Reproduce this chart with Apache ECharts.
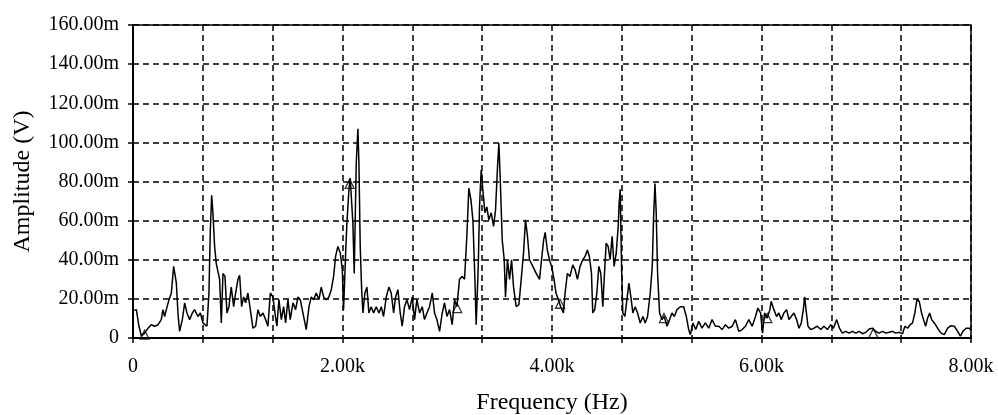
<!DOCTYPE html>
<html>
<head>
<meta charset="utf-8">
<title>Amplitude spectrum</title>
<script src="https://cdn.jsdelivr.net/npm/echarts@6/dist/echarts.min.js"></script>
<style>
  html, body { margin: 0; padding: 0; background: #fff; }
  #chart { width: 998px; height: 415px; }
</style>
</head>
<body>
<div id="chart"></div>
<script>
// frequency of each trace point (Hz)
const freqHz = [
  0, 32, 57, 80, 111, 143, 175, 207, 239, 270, 286, 302, 318, 344, 366, 388, 398, 414, 429, 445,
  471, 493, 515, 541, 566, 588, 620, 643, 668, 706, 725, 738, 751, 763, 779, 795, 811, 827, 843, 859,
  878, 897, 916, 938, 961, 980, 1002, 1018, 1037, 1056, 1075, 1097, 1120, 1145, 1171, 1193, 1215, 1241, 1266, 1288,
  1311, 1336, 1355, 1374, 1393, 1416, 1438, 1457, 1479, 1501, 1527, 1552, 1575, 1597, 1622, 1654, 1680, 1702, 1724, 1750,
  1775, 1797, 1820, 1845, 1870, 1893, 1915, 1934, 1956, 1979, 1998, 2010, 2030, 2042, 2061, 2074, 2087, 2099, 2112, 2131,
  2147, 2157, 2169, 2182, 2195, 2214, 2233, 2252, 2274, 2297, 2322, 2348, 2370, 2392, 2418, 2443, 2465, 2488, 2507, 2529,
  2551, 2570, 2592, 2615, 2640, 2666, 2688, 2710, 2736, 2761, 2783, 2806, 2831, 2857, 2879, 2901, 2927, 2952, 2974, 2997,
  3022, 3047, 3070, 3092, 3117, 3143, 3165, 3187, 3206, 3226, 3245, 3264, 3276, 3296, 3308, 3324, 3340, 3359, 3378, 3397,
  3420, 3442, 3461, 3480, 3493, 3505, 3525, 3544, 3556, 3575, 3595, 3614, 3633, 3658, 3684, 3706, 3728, 3747, 3766, 3785,
  3817, 3849, 3881, 3900, 3920, 3935, 3955, 3981, 3997, 4019, 4038, 4061, 4083, 4109, 4125, 4147, 4172, 4198, 4220, 4243,
  4268, 4294, 4316, 4338, 4357, 4377, 4389, 4408, 4428, 4447, 4466, 4485, 4498, 4517, 4536, 4555, 4574, 4593, 4613, 4632,
  4641, 4651, 4664, 4676, 4696, 4715, 4734, 4753, 4772, 4794, 4817, 4842, 4868, 4890, 4912, 4938, 4957, 4970, 4983, 4995,
  5008, 5027, 5050, 5072, 5098, 5123, 5145, 5168, 5193, 5225, 5257, 5282, 5305, 5321, 5346, 5372, 5401, 5432, 5464, 5496,
  5528, 5560, 5592, 5624, 5656, 5688, 5720, 5751, 5783, 5815, 5847, 5879, 5911, 5943, 5965, 5991, 6010, 6029, 6055, 6080,
  6093, 6118, 6144, 6166, 6188, 6214, 6240, 6262, 6284, 6310, 6335, 6358, 6380, 6399, 6412, 6425, 6444, 6469, 6501, 6533,
  6565, 6597, 6629, 6661, 6686, 6718, 6744, 6772, 6804, 6836, 6868, 6900, 6932, 6964, 6996, 7028, 7059, 7091, 7123, 7155,
  7187, 7219, 7251, 7283, 7315, 7346, 7369, 7394, 7420, 7442, 7464, 7484, 7506, 7528, 7547, 7567, 7586, 7605, 7624, 7650,
  7681, 7713, 7745, 7777, 7809, 7841, 7873, 7898, 7924, 7953, 7984, 8000
];

// amplitude at each point (mV)
const ampMv = [
  14, 14.5, 6, 1, 2.5, 5, 6.8, 6, 6.8, 9.4, 14.5, 11, 14.5, 19.6, 23, 36.6, 37.4, 28, 12.8, 3.4,
  9.4, 17.9, 12.8, 9.4, 12.8, 14.5, 11, 12.8, 7.7, 6, 23, 55, 73, 64, 47, 38, 39, 30, 7.7, 33,
  31.5, 12.8, 16, 26, 16, 23, 30, 32, 16, 21, 18, 23, 14.5, 5, 6, 14.5, 11, 12.8, 9.4, 6,
  23, 21, 12.8, 6, 19.6, 9.4, 16, 7.7, 19.6, 9.4, 18, 14.5, 21, 19.6, 12.8, 4.3, 16, 21, 19.6, 23,
  19.6, 26, 21, 19.6, 21, 24.7, 31.5, 41.7, 46.8, 43.4, 35, 14.5, 43.4, 58.7, 75.7, 81.7, 80.9, 58.7, 33, 89,
  107, 89, 47, 26, 12.8, 23, 26, 12.8, 16, 12.8, 16, 12.8, 16, 11, 21, 26, 23, 12.8, 21, 24.7,
  12.8, 6, 16, 19.6, 14.5, 21, 9.4, 19.6, 12.8, 16, 9.4, 12.8, 16, 23, 12.8, 9.4, 3.4, 12.8, 18, 11,
  14.5, 6.8, 19.6, 16, 30, 31.5, 30, 52, 76.6, 70.6, 60.4, 30, 6.8, 36.6, 67, 86, 75.7, 64, 67, 60.4,
  64, 57, 65.5, 87.7, 99.6, 82.5, 50, 40, 21, 40, 30, 40, 26, 16, 17, 30, 43.4, 60.4, 52, 40,
  36.6, 33, 30, 40, 50, 54, 45, 39, 36.6, 30, 23, 19.6, 16, 12.8, 23, 33, 31.5, 37.4, 35, 30,
  36.6, 40, 41.7, 45, 41.7, 33, 12.8, 14.5, 23, 36.6, 33, 16, 30, 48.5, 46.8, 40, 52, 36.6, 43.4, 57,
  69, 76, 36.6, 12.8, 11, 19.6, 28, 21, 12.8, 16, 12.8, 7.7, 11, 7.7, 11, 23, 36.6, 62, 79, 64,
  33, 12.8, 9.4, 11, 6, 9.4, 12.8, 11, 14.5, 16, 16, 11, 4.3, 1.7, 7.7, 4.3, 8.5, 5, 7.7, 5,
  9.4, 6, 6, 4.3, 6.8, 5, 6, 9.4, 3.4, 4.3, 6, 9.4, 6, 11, 15.3, 12.8, 2.5, 12.8, 10.2, 14.5,
  18.7, 14.5, 11, 12.8, 9.4, 12.8, 14.5, 9.4, 11, 12.8, 9.4, 5, 7.7, 14.5, 21, 14.5, 6, 4.3, 5, 6,
  4.3, 6, 4.3, 6.8, 5, 9.4, 5, 2.5, 3.4, 2.5, 3.4, 2.5, 3.4, 2.2, 2.9, 4.6, 5, 3.4, 2.5, 3.4,
  2.5, 2.9, 3.4, 2.5, 2.9, 2.2, 6, 5, 6.8, 7.7, 12.8, 19.6, 18.7, 12.8, 9.4, 6, 10.2, 12.8, 9.4, 7.7,
  5, 2.5, 1.7, 5, 6.3, 6, 3.4, 0.9, 3.4, 5, 5, 4
];

// harmonic cursor markers (open triangles)
const markerHz = [111, 2068, 3095, 4077, 5069, 6055, 7068];
const markerMv = [1.7, 78.8, 15.3, 17.5, 10.2, 10.2, 2.5];

const xMin = 0;
const xMax = 8000;
const xStep = 8000 / 12;
const yMax = 160;
const yStep = 20;

const serif = 'Liberation Serif';

const chart = echarts.init(document.getElementById('chart'));

const trace = freqHz.map((f, i) => [f, ampMv[i]]);
const markers = markerHz.map((f, i) => [f, markerMv[i]]);

const option = {
  animation: false,
  backgroundColor: '#fff',
  grid: {
    left: 133,
    right: 27,
    top: 25,
    bottom: 77,
    outerBoundsMode: 'none',
    show: true,
    borderColor: '#000',
    borderWidth: 1.5
  },
  xAxis: {
    type: 'value',
    min: xMin,
    max: xMax,
    interval: xStep,
    name: 'Frequency (Hz)',
    nameLocation: 'middle',
    nameGap: 53,
    nameTextStyle: { fontFamily: serif, fontSize: 24, color: '#000' },
    axisLine: { lineStyle: { color: '#000', width: 2 } },
    axisTick: { length: 5, lineStyle: { color: '#000', width: 1.5 } },
    axisLabel: {
      fontFamily: serif,
      fontSize: 20,
      color: '#000',
      margin: 19,
      formatter: function (v) {
        const r = v / 2000;
        if (Math.abs(r - Math.round(r)) > 1e-6) return '';
        if (Math.round(v) === 0) return '0';
        return (Math.round(v) / 1000).toFixed(2) + 'k';
      }
    },
    splitLine: { show: true, lineStyle: { color: '#000', width: 1.5, type: [6, 4] } }
  },
  yAxis: {
    type: 'value',
    min: 0,
    max: yMax,
    interval: yStep,
    name: 'Amplitude (V)',
    nameLocation: 'middle',
    nameGap: 98,
    nameTextStyle: { fontFamily: serif, fontSize: 24, color: '#000' },
    axisLine: { show: true, lineStyle: { color: '#000', width: 2 } },
    axisTick: { show: true, length: 5, lineStyle: { color: '#000', width: 1.5 } },
    axisLabel: {
      fontFamily: serif,
      fontSize: 20,
      color: '#000',
      margin: 14,
      formatter: function (v) {
        return v === 0 ? '0' : v.toFixed(2) + 'm';
      }
    },
    splitLine: { show: true, lineStyle: { color: '#000', width: 1.5, type: [6, 4] } }
  },
  series: [
    {
      name: 'Amplitude',
      type: 'line',
      data: trace,
      showSymbol: false,
      lineStyle: { color: '#000', width: 1.5 },
      z: 3
    },
    {
      name: 'Markers',
      type: 'scatter',
      data: markers,
      symbol: 'triangle',
      symbolSize: 9,
      itemStyle: { color: 'rgba(0,0,0,0)', borderColor: '#000', borderWidth: 1.3 },
      z: 4
    }
  ]
};

chart.setOption(option);
</script>
</body>
</html>
